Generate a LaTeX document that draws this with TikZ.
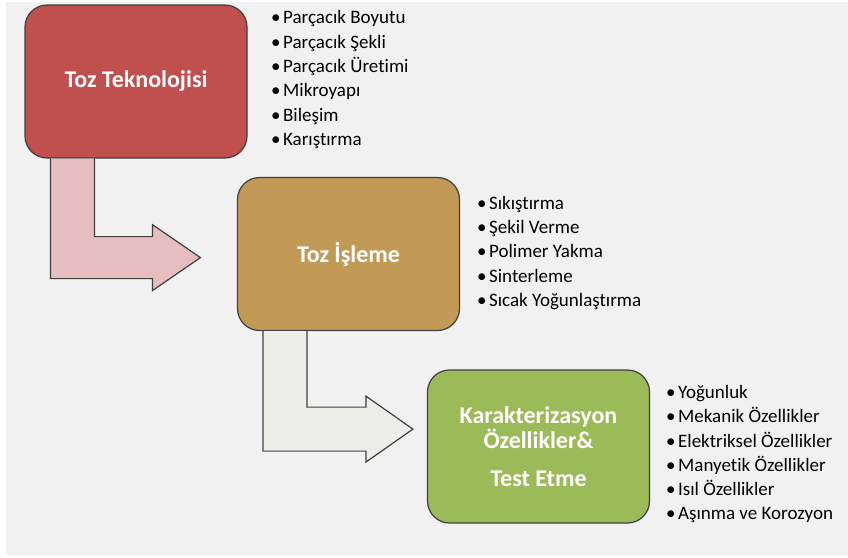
\documentclass[tikz,border=0pt]{standalone}
\usepackage{fontspec}
\setmainfont{Carlito}[Ligatures=NoCommon]
\definecolor{bgc}{HTML}{F1F1F1}
\definecolor{redbox}{HTML}{C0504D}
\definecolor{goldbox}{HTML}{C29A55}
\definecolor{greenbox}{HTML}{9BBB59}
\definecolor{pinkarrow}{HTML}{E6BEC0}
\definecolor{greyarrow}{HTML}{EDEEEA}
\definecolor{edge}{HTML}{3F3F3F}
\newcommand{\itm}{\textbullet\hspace{2.5pt}}
\tikzset{
	box/.style={draw=edge, line width=1.2pt, rounded corners=22pt, minimum width=222pt, minimum height=153pt, text=white, font=\fontsize{24}{25}\selectfont\bfseries, align=center},
	list/.style={anchor=north west, inner sep=0pt, align=left, font=\fontsize{19}{24.3}\selectfont},
	bent/.style={draw=edge, line width=1.2pt, line join=miter},
}
\begin{document}
\begin{tikzpicture}[x=1pt,y=-1pt]
			\fill[white] (0,0) rectangle (848,557);
			\fill[bgc] (6,2) rectangle (848,555);
			\node[box, fill=redbox] (b1) at (136,81.5) {Toz Teknolojisi};
			\node[box, fill=goldbox] (b2) at (348.5,254) {Toz İşleme};
			\node[box, fill=greenbox] (b3) at (538.5,446.5) {Karakterizasyon\\Özellikler\&\\[13pt]Test Etme};
			\node[list] (l1) at (271,10.5) {\itm Parçacık Boyutu\\\itm Parçacık Şekli\\\itm Parçacık Üretimi\\\itm Mikroyapı\\\itm Bileşim\\\itm Karıştırma};
			\node[list] (l2) at (477,196) {\itm Sıkıştırma\\\itm Şekil Verme\\\itm Polimer Yakma\\\itm Sinterleme\\\itm Sıcak Yoğunlaştırma};
			\node[list] (l3) at (666,385) {\itm Yoğunluk\\\itm Mekanik Özellikler\\\itm Elektriksel Özellikler\\\itm Manyetik Özellikler\\\itm Isıl Özellikler\\\itm Aşınma ve Korozyon};
			\filldraw[bent, fill=pinkarrow] ([xshift=70]b1.south west) -- ++(0,78) -- ++(58,0) -- ++(0,-12) -- ++(48,33) -- ++(-48,33) -- ++(0,-12) -- ++(-102,0) -- ++(0,-120);
			\filldraw[bent, fill=greyarrow] ([xshift=70]b2.south west) -- ++(0,76) -- ++(59,0) -- ++(0,-11) -- ++(47,33) -- ++(-47,33) -- ++(0,-11) -- ++(-103,0) -- ++(0,-120);
		\end{tikzpicture}
\end{document}
